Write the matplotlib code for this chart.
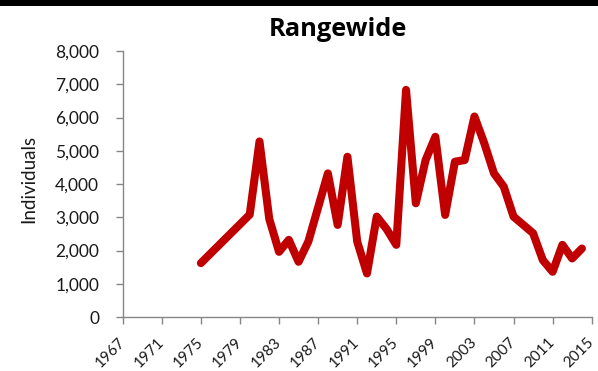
import matplotlib
matplotlib.use("Agg")
import matplotlib.pyplot as plt
from matplotlib.patches import Rectangle
from matplotlib.ticker import FuncFormatter
from matplotlib.transforms import ScaledTranslation

years = [1975, 1980, 1981, 1982, 1983, 1984, 1985, 1986, 1988, 1989, 1990,
         1991, 1992, 1993, 1994, 1995, 1996, 1997, 1998, 1999, 2000, 2001,
         2002, 2003, 2004, 2005, 2006, 2007, 2008, 2009, 2010, 2011, 2012,
         2013, 2014]
individuals = [1620, 3080, 5280, 2950, 1960, 2320, 1660, 2270, 4320, 2770, 4820,
               2270, 1310, 3020, 2650, 2170, 6830, 3420, 4720, 5420, 3070, 4670,
               4720, 6030, 5230, 4320, 3920, 3020, 2770, 2520, 1710, 1360, 2170,
               1760, 2060]
xticks = list(range(1967, 2016, 4))
yticks = list(range(0, 8001, 1000))
title = "Rangewide"
ylabel = "Individuals"

plt.rcParams['font.family'] = ['Lato', 'DejaVu Sans']

W, H = 598, 371
fig = plt.figure(figsize=(W / 100, H / 100), dpi=100)
fig.patches.append(Rectangle((0, 1 - 6 / H), 1, 6 / H, transform=fig.transFigure,
                             facecolor='black', edgecolor='none', zorder=10))

ax = fig.add_axes([122.7 / W, (H - 317) / H, 469 / W, 266 / H])
ax.plot(years, individuals, color='#C00000', linewidth=5.8,
        solid_joinstyle='round', solid_capstyle='round', clip_on=False)

ax.set_xlim(1967, 2015)
ax.set_ylim(0, 8000)
ax.set_xticks(xticks)
ax.set_xticklabels([str(y) for y in xticks], rotation=45, ha='right', va='center',
                   rotation_mode='anchor', fontsize=11, color='#1a1a1a')
shift = ScaledTranslation(-3 / 100, 0, fig.dpi_scale_trans)
for lab in ax.get_xticklabels():
    lab.set_transform(lab.get_transform() + shift)
ax.set_yticks(yticks)
ax.yaxis.set_major_formatter(FuncFormatter(lambda v, p: f"{int(v):,}"))
for lab in ax.get_yticklabels():
    lab.set_fontsize(12.5)
    lab.set_color('#1a1a1a')

for s in ['top', 'right']:
    ax.spines[s].set_visible(False)
for s in ['left', 'bottom']:
    ax.spines[s].set_color('#868686')
    ax.spines[s].set_linewidth(1.0)
ax.tick_params(axis='both', direction='out', length=5, color='#868686', width=1.0)
ax.tick_params(axis='y', pad=12)
ax.tick_params(axis='x', pad=11.5)

fig.text(29 / W, 1 - 179 / H, ylabel, rotation=90, ha='center', va='center',
         fontsize=13.5, color='#1a1a1a')

t = fig.text(337.5 / W, 1 - 30 / H, title, ha='center', va='center',
             fontsize=17, fontweight='bold', color='black', family='Open Sans')
fig.canvas.draw()
wpx = t.get_window_extent().width
t.set_fontsize(17 * 138 / wpx)

fig.savefig("out.png", dpi=100)
